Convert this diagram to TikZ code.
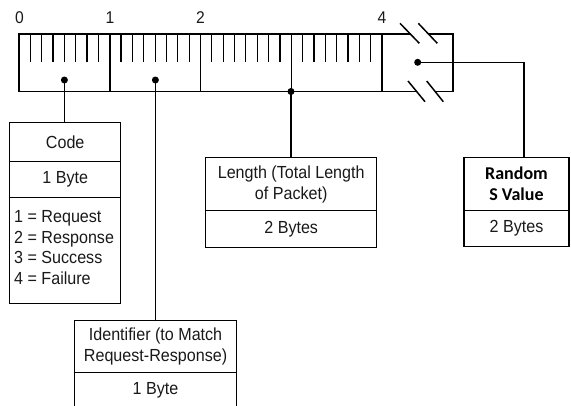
\documentclass[tikz,border=0pt]{standalone}
\usepackage{fontspec}
\setmainfont{Liberation Sans}[FakeStretch=0.92]
\newfontfamily\calibfont{Carlito}
\begin{document}
\begin{tikzpicture}[x=1pt,y=-1pt,
  boxpart/.style={draw=black, line width=1.4pt, inner sep=0pt, anchor=north west, align=center,
    font=\fontsize{17.5}{21}\selectfont, text=black!90},
  rim/.style={line width=1.5pt},
  bittick/.style={line width=1.2pt},
  conn/.style={line width=1.2pt},
  dotnode/.style={circle, fill=black, inner sep=0pt, minimum size=7pt},
  ruletext/.style={font=\fontsize{17}{19}\selectfont, text=black!90}]
\useasboundingbox (0,0) rectangle (571,405);
\clip (0,0) rectangle (571,405);
% ruler labels
\node[ruletext] (l0) at (19.5,18) {0};
\node[ruletext] (l1) at (110,18) {1};
\node[ruletext] (l2) at (200.5,18) {2};
\node[ruletext] (l4) at (382,18) {4};
% ruler outline with break
\draw[rim] (410.6,34) -- (19,34) -- (19,91.5) -- (416.6,91.5);
\draw[rim] (428.8,34) -- (453,34) -- (453,91.5) -- (435.1,91.5);
% break marks
\draw[rim] (400,23.3) -- (419.3,43.3);
\draw[rim] (418.3,23.3) -- (437.3,43.3);
\draw[rim] (408,81) -- (425,101.7);
\draw[rim] (426.7,81) -- (443.3,101.7);
% byte separators
\foreach \k in {1,2,3,4} {
  \draw[rim] ({19+\k*90.75},34) -- ({19+\k*90.75},91.5);
}
% bit ticks
\foreach \k in {0,1,2,3} {
  \foreach \i in {1,...,7} {
    \draw[bittick] ({19+\k*90.75+\i*11.344},34) -- ({19+\k*90.75+\i*11.344},62);
  }
}
% dots
\node[dotnode] (d1) at (64.4,80) {};
\node[dotnode] (d2) at (155.4,80) {};
\node[dotnode] (d3) at (291,91.5) {};
\node[dotnode] (d4) at (417.7,62.3) {};
% Code box
\node[boxpart, minimum width=111pt, minimum height=39pt] (code1) at (9,121.7) {Code};
\node[boxpart, minimum width=111pt, minimum height=36pt] (code2) at (9,160.7) {1 Byte};
\node[boxpart, minimum width=111pt, minimum height=106pt] (code3) at (9,196.7) {};
\node[anchor=west, align=left, inner sep=0pt, font=\fontsize{17.5}{20.6}\selectfont, text=black!90]
  (codelist) at (14,247.5) {1 = Request\\2 = Response\\3 = Success\\4 = Failure};
% Length box
\node[boxpart, minimum width=171pt, minimum height=53pt] (len1) at (205,157) {Length (Total Length\\of Packet)};
\node[boxpart, minimum width=171pt, minimum height=36.7pt] (len2) at (205,210) {2 Bytes};
% Random box
\node[boxpart, minimum width=105pt, minimum height=53.5pt, font=\calibfont\bfseries\fontsize{18}{21}\selectfont, text=black] (rand1) at (463.3,156.5) {Random\\S Value};
\node[boxpart, minimum width=105pt, minimum height=36pt] (rand2) at (463.3,210) {2 Bytes};
% Identifier box
\node[boxpart, minimum width=161.7pt, minimum height=51.7pt] (id1) at (74,320) {Identifier (to Match\\Request-Response)};
\node[boxpart, minimum width=161.7pt, minimum height=36pt] (id2) at (74,371.7) {1 Byte};
\draw[line width=1.4pt] (id2.south west) -- ++(0,30);
\draw[line width=1.4pt] (id2.south east) -- ++(0,30);
% connectors
\coordinate (c4) at (524,62.3);
\draw[conn] (d1.center) -- (d1.center |- code1.north);
\draw[conn] (d2.center) -- (d2.center |- id1.north);
\draw[conn] (d3.center) -- (d3.center |- len1.north);
\draw[conn] (d4.center) -- (c4) -- (c4 |- rand1.north);
\end{tikzpicture}
\end{document}
